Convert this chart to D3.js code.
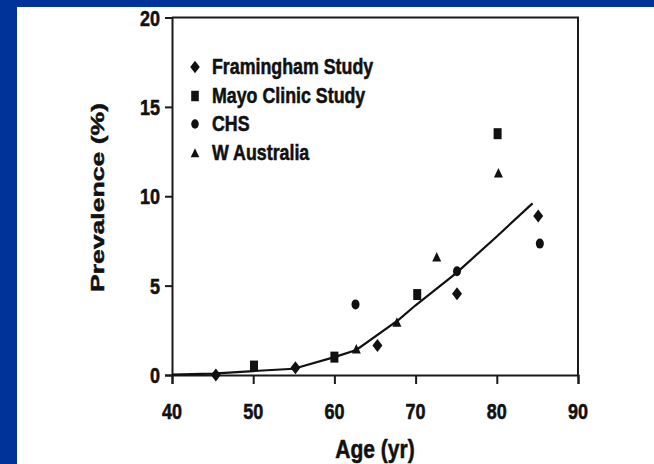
<!DOCTYPE html>
<html>
<head>
<meta charset="utf-8">
<script src="https://cdn.jsdelivr.net/npm/d3@7"></script>
<style>
  html, body { margin: 0; padding: 0; background: #003399; }
  svg text { font-family: "Liberation Sans", Arial, sans-serif; font-weight: bold; fill: #111; stroke: #111; stroke-width: 0.45px; }
</style>
</head>
<body>
<div id="container"></div>
<script>
// data
const xTicks = [40, 50, 60, 70, 80, 90];
const yTicks = [0, 5, 10, 15, 20];
const seriesNames = ['Framingham Study', 'Mayo Clinic Study', 'CHS', 'W Australia'];
const seriesShapes = ['diamond', 'square', 'circle', 'triangle'];
const framingham = [[45.4, 0.0], [55.2, 0.4], [65.3, 1.65], [75.1, 4.55], [85.1, 8.9]];
const mayo = [[50.1, 0.5], [60.0, 1.0], [70.2, 4.5], [80.1, 13.5]];
const chs = [[62.6, 3.95], [75.1, 5.8], [85.3, 7.35]];
const wAustralia = [[62.7, 1.45], [67.7, 2.95], [72.6, 6.6], [80.2, 11.3]];
const fitLine = [[40, 0.02], [45, 0.08], [50, 0.22], [55, 0.35], [60, 1.0], [62.7, 1.4],
    [67.9, 3.08], [70, 3.9], [75, 5.7], [80, 7.75], [84.4, 9.6]];

const W = 654, H = 464;
// the scanned figure is stretched vertically
const STRETCH = 1.2;

const svg = d3.select('#container')
    .append('svg')
    .attr('width', W)
    .attr('height', H);

// slide background + white panel
svg.append('rect').attr('width', W).attr('height', H).attr('fill', '#003399');
svg.append('rect').attr('x', 17).attr('y', 7).attr('width', W - 17).attr('height', H - 7).attr('fill', '#fff');

const x = d3.scaleLinear().domain([40, 90]).range([172, 578]);
const y = d3.scaleLinear().domain([0, 20]).range([375, 17.5]);

const ink = '#1a1a1a';

// box (top and right borders)
svg.append('path')
    .attr('d', `M${x(40)},${y(20)}H${x(90)}V${y(0)}`)
    .attr('fill', 'none')
    .attr('stroke', ink)
    .attr('stroke-width', 2);

// axes
const xAxis = d3.axisBottom(x).tickValues(xTicks).tickSize(9).tickFormat('');
const yAxis = d3.axisLeft(y).tickValues(yTicks).tickSize(7).tickFormat('');
const xAxisG = svg.append('g').attr('transform', `translate(0,${y(0)})`).call(xAxis);
const yAxisG = svg.append('g').attr('transform', `translate(${x(40)},0)`).call(yAxis);
[xAxisG, yAxisG].forEach(g => {
    g.select('.domain').attr('stroke', ink).attr('stroke-width', 2);
    g.selectAll('.tick line').attr('stroke', ink).attr('stroke-width', 2);
});

// stretched text helper
function label(txt, tx, ty, size, anchor) {
    return svg.append('text')
        .attr('transform', `translate(${tx},${ty}) scale(1,${STRETCH})`)
        .attr('text-anchor', anchor)
        .style('font-size', size + 'px')
        .text(txt);
}

xTicks.forEach(t => label(t, x(t), 419, 18, 'middle'));
yTicks.forEach(t => label(t, 160, y(t) + 8, 18, 'end'));

label('Age (yr)', (x(40) + x(90)) / 2, 458, 21, 'middle');

svg.append('text')
    .attr('transform', 'translate(104,197.5) rotate(-90)')
    .attr('text-anchor', 'middle')
    .attr('textLength', 189)
    .attr('lengthAdjust', 'spacingAndGlyphs')
    .style('font-size', '18px')
    .text('Prevalence (%)');

// marker shapes (taller than wide, like the scan)
function markerPath(shape) {
    switch (shape) {
        case 'diamond': return 'M0,-6.5L5,0L0,6.5L-5,0Z';
        case 'square': return 'M-4,-5.5H4V5.5H-4Z';
        case 'triangle': return 'M0,-5L4.5,4.5H-4.5Z';
        default: return 'M-4,0A4,5 0 1,0 4,0A4,5 0 1,0 -4,0Z';
    }
}

// fitted curve
const line = d3.line().x(d => x(d[0])).y(d => y(d[1]));
svg.append('path')
    .datum(fitLine)
    .attr('d', line)
    .attr('fill', 'none')
    .attr('stroke', '#111')
    .attr('stroke-width', 2.2);

const allSeries = [framingham, mayo, chs, wAustralia];
allSeries.forEach((pts, i) => {
    svg.append('g').selectAll('path')
        .data(pts)
        .enter()
        .append('path')
        .attr('d', markerPath(seriesShapes[i]))
        .attr('transform', d => `translate(${x(d[0])},${y(d[1])})`)
        .attr('fill', '#111');
});

// legend
const legendY = [67, 96, 124, 153];
seriesNames.forEach((name, i) => {
    svg.append('path')
        .attr('d', markerPath(seriesShapes[i]))
        .attr('transform', `translate(195,${legendY[i]}) scale(0.95)`)
        .attr('fill', '#111');
    label(name, 212, legendY[i] + 7, 17.8, 'start');
});
</script>
</body>
</html>
